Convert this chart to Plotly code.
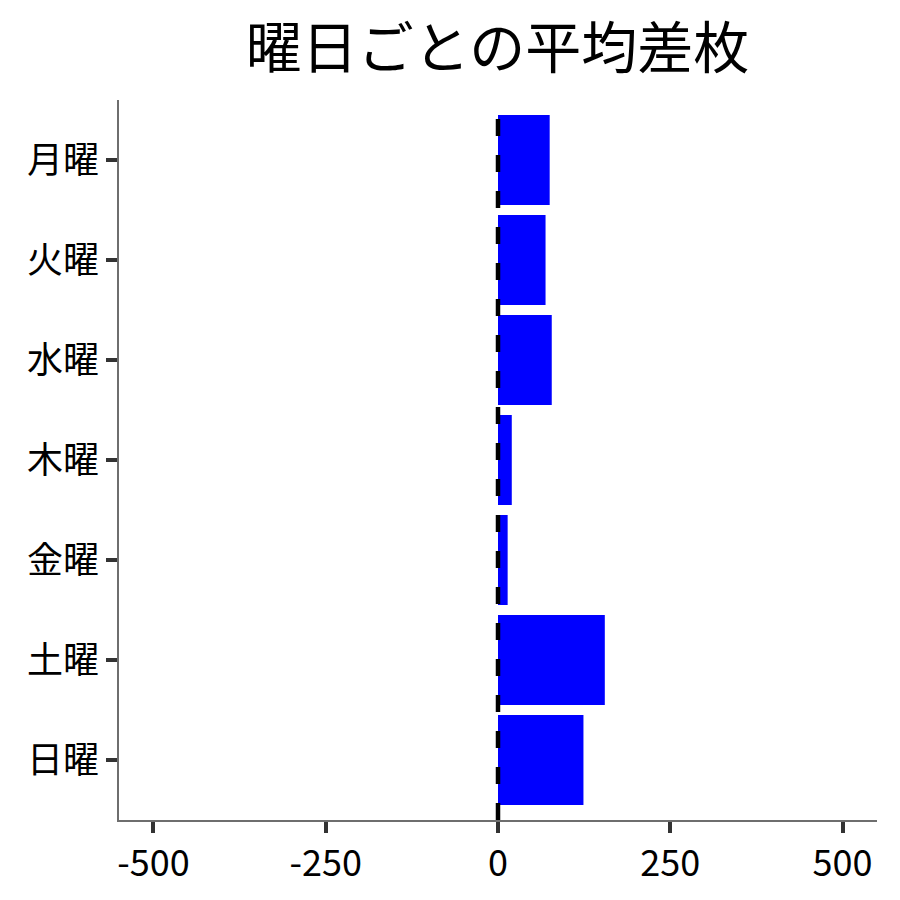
import plotly.graph_objects as go

# ── data ─────────────────────────────────────────────────────────────
days = ["月曜", "火曜", "水曜", "木曜", "金曜", "土曜", "日曜"]
avg_diff = [75, 69, 78, 20, 14, 155, 124]
x_ticks = [-500, -250, 0, 250, 500]
x_labels = ["-500", "-250", "0", "250", "500"]

FONT = "Noto Sans CJK JP"

fig = go.Figure()

fig.add_trace(go.Bar(
    x=avg_diff, y=days, orientation="h",
    marker=dict(color="#0000ff", line=dict(width=0)),
    width=0.9,
    showlegend=False,
))

# zero reference line, drawn over the bar edges
fig.add_vline(x=0, line=dict(color="#000000", width=4.5, dash="17px,19px"), layer="above")

fig.update_layout(
    title=dict(text="曜日ごとの平均差枚", x=0.544, xanchor="center", y=0.955, yanchor="middle",
               font=dict(family=FONT, size=56, color="#000000")),
    width=900, height=900,
    paper_bgcolor="#ffffff",
    plot_bgcolor="#ffffff",
    font=dict(family=FONT, size=36, color="#000000"),
    margin=dict(l=111, r=31, t=92, b=88),
    bargap=0.1,
)

fig.update_xaxes(
    range=[-550, 550],
    tickvals=x_ticks, ticktext=x_labels,
    showgrid=False, zeroline=False,
    showline=True, linecolor="#6e6e6e", linewidth=1.5,
    ticks="outside", ticklen=11, tickwidth=4, tickcolor="#333333",
    tickfont=dict(family=FONT, size=36, color="#000000"),
)
fig.update_yaxes(
    categoryorder="array", categoryarray=days[::-1],
    range=[-0.6, 6.6],
    showgrid=False, zeroline=False,
    showline=True, linecolor="#6e6e6e", linewidth=1.5,
    ticks="outside", ticklen=11, tickwidth=4, tickcolor="#333333",
    tickfont=dict(family=FONT, size=36, color="#000000"),
)

fig.write_html("out.html")
